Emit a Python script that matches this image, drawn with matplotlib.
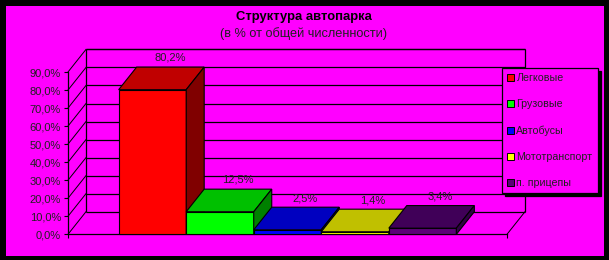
"""Structure of the vehicle fleet: pseudo-3D column chart on magenta."""

import matplotlib

matplotlib.use("Agg")
import matplotlib.pyplot as plt
from matplotlib.patches import Patch, Polygon, Rectangle

series = ["Легковые", "Грузовые", "Автобусы", "Мототранспорт", "п. прицепы"]
shares = [80.2, 12.5, 2.5, 1.4, 3.4]
y_ticks = [0, 10, 20, 30, 40, 50, 60, 70, 80, 90]

front_colors = ["#ff0000", "#00ff00", "#0000ff", "#ffff00", "#5c0078"]
top_colors = ["#c00000", "#00c000", "#0000c0", "#c0c000", "#400058"]
side_colors = ["#800000", "#008000", "#000080", "#808000", "#300044"]
legend_colors = ["#ff0000", "#00ff00", "#0000ff", "#ffff00", "#5c0078"]

MAGENTA = "#ff00ff"
W, H, DPI = 609, 260, 100


def pct(v):
    return f"{v:.1f}%".replace(".", ",")


def main() -> None:
    plt.rcParams["font.family"] = ["Liberation Sans", "DejaVu Sans"]
    fig = plt.figure(figsize=(W / DPI, H / DPI), dpi=DPI, facecolor="black")
    fig.patches.append(
        Rectangle((6 / W, 4 / H), 598 / W, 250 / H, transform=fig.transFigure,
                  facecolor=MAGENTA, edgecolor="none", zorder=-5)
    )

    # front plane of the plot box, in pixels
    left, right, base, top = 68, 507, 234.3, 72.0
    ax = fig.add_axes([left / W, (H - base) / H, (right - left) / W, (base - top) / H])
    ax.set_facecolor("none")
    xmin, xmax = -0.75, len(series) + 0.75
    ymax = y_ticks[-1]
    ax.set_xlim(xmin, xmax)
    ax.set_ylim(0, ymax)
    px_x = (xmax - xmin) / (right - left)
    px_y = ymax / (base - top)
    dx, dy = 18 * px_x, 22.6 * px_y

    line = dict(color="black", lw=0.9, clip_on=False, solid_capstyle="butt")
    # back wall + gridlines
    for t in y_ticks:
        ax.plot([xmin + dx, xmax + dx], [t + dy, t + dy], **line)
        ax.plot([xmin, xmin + dx], [t, t + dy], color="black", lw=0.7, clip_on=False)
    ax.plot([xmin + dx] * 2, [dy, ymax + dy], **line)
    ax.plot([xmax + dx] * 2, [dy, ymax + dy], **line)
    ax.plot([xmin + dx, xmax + dx], [ymax + dy, ymax + dy], **line)
    ax.plot([xmax, xmax + dx], [0, dy], color="black", lw=0.7, clip_on=False)

    for i, v in enumerate(shares):
        x0, x1 = i, i + 1
        ax.add_patch(Rectangle((x0, 0), 1, v, facecolor=front_colors[i],
                               edgecolor="black", lw=0.8, clip_on=False, zorder=3))
        ax.add_patch(Polygon([(x0, v), (x1, v), (x1 + dx, v + dy), (x0 + dx, v + dy)],
                             facecolor=top_colors[i], edgecolor="black", lw=0.8,
                             clip_on=False, zorder=3))
        ax.add_patch(Polygon([(x1, 0), (x1, v), (x1 + dx, v + dy), (x1 + dx, dy)],
                             facecolor=side_colors[i], edgecolor="black", lw=0.8,
                             clip_on=False, zorder=3))
        ax.annotate(pct(v), (i + 0.5 + dx, v + dy), xytext=(0, 3),
                    textcoords="offset points", ha="center", va="bottom",
                    fontsize=8, color="#202020", zorder=4, annotation_clip=False)

    for side in ("top", "right"):
        ax.spines[side].set_visible(False)
    for side in ("left", "bottom"):
        ax.spines[side].set_linewidth(0.9)
    ax.set_yticks(y_ticks, [pct(t) for t in y_ticks])
    ax.set_xticks([xmin, xmax], ["", ""])
    ax.tick_params(axis="y", length=3, width=0.8, labelsize=8, pad=2, labelcolor="#202020")
    ax.tick_params(axis="x", length=3, width=0.8)

    handles = [Patch(facecolor=c, edgecolor="black", lw=0.7) for c in legend_colors]
    leg = fig.legend(handles, series, loc="upper left",
                     bbox_to_anchor=(502 / W, 1 - 68 / H), borderaxespad=0,
                     fontsize=7.7, frameon=True, fancybox=False,
                     shadow={"color": "black", "alpha": 1},
                     handlelength=0.6, handleheight=0.6, handletextpad=0.25,
                     labelspacing=1.5, borderpad=0.5, labelcolor="#202020")
    leg.get_frame().set_facecolor(MAGENTA)
    leg.get_frame().set_edgecolor("black")
    leg.get_frame().set_linewidth(0.9)

    fig.text(304 / W, 1 - 17 / H, "Структура автопарка", ha="center", va="center",
             fontsize=9.4, fontweight="bold")
    fig.text(304 / W, 1 - 34 / H, "(в % от общей численности)", ha="center",
             va="center", fontsize=9.2, color="#202020")

    fig.savefig("out.png", dpi=DPI, facecolor="black")
    plt.close(fig)


if __name__ == "__main__":
    main()
